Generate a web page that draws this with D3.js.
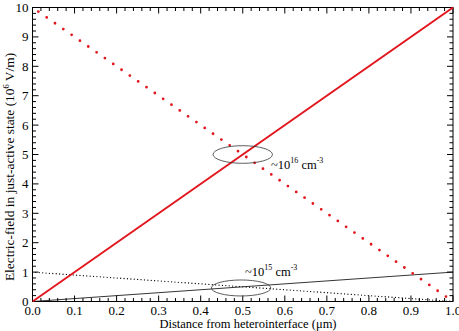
<!DOCTYPE html>
<html><head><meta charset="utf-8">
<script src="https://cdn.jsdelivr.net/npm/d3@7"></script>
<style>body{margin:0;background:#fff}svg{display:block}</style>
</head><body><svg id="c" width="459" height="331" font-family="'Liberation Serif', 'DejaVu Serif', serif"></svg>
<script>
// data
const xTicks = [0,0.1,0.2,0.3,0.4,0.5,0.6,0.7,0.8,0.9,1.0];
const yTicks = [0,1,2,3,4,5,6,7,8,9,10];
const xVals = [0, 1];
const redRising = [0, 10];      // ~10^16 cm^-3, solid
const redFalling = [10, 0];     // ~10^16 cm^-3, dotted
const blackRising = [0, 1];     // ~10^15 cm^-3, solid
const blackFalling = [1, 0];    // ~10^15 cm^-3, dotted
const ellipses = [{cx:0.5, cy:5.0, ry:8.8}, {cx:0.496, cy:0.46, ry:8}];

const svg = d3.select("#c");
const L=32.5, R=453, T=7.5, B=301.5;
const x = d3.scaleLinear().domain([0,1]).range([L,R]);
const y = d3.scaleLinear().domain([0,10]).range([B,T]);

svg.append("rect").attr("x",L).attr("y",T).attr("width",R-L).attr("height",B-T)
  .attr("fill","none").attr("stroke","#000").attr("stroke-width",1);

const minorX = d3.range(0,51).map(i=>i*0.02);
const minorY = d3.range(0,51).map(i=>i*0.2);
const g = svg.append("g").attr("stroke","#000").attr("stroke-width",1);
minorX.forEach(v=>{
  const major = Math.abs(v*10-Math.round(v*10))<1e-6;
  const len = major?6:3.5;
  g.append("line").attr("x1",x(v)).attr("x2",x(v)).attr("y1",B).attr("y2",B-len);
  g.append("line").attr("x1",x(v)).attr("x2",x(v)).attr("y1",T).attr("y2",T+len);
});
minorY.forEach(v=>{
  const major = Math.abs(v-Math.round(v))<1e-6;
  const len = major?6:3.5;
  g.append("line").attr("y1",y(v)).attr("y2",y(v)).attr("x1",L).attr("x2",L+len);
  g.append("line").attr("y1",y(v)).attr("y2",y(v)).attr("x1",R).attr("x2",R-len);
});

svg.append("g").selectAll("text").data(xTicks).join("text")
  .attr("x",d=>x(d)).attr("y",B+13.5).attr("text-anchor","middle").attr("font-size",13)
  .text(d=>d.toFixed(1));
svg.append("g").selectAll("text").data(yTicks).join("text")
  .attr("x",L-4).attr("y",d=>y(d)+4.5).attr("text-anchor","end").attr("font-size",13)
  .text(d=>d);

svg.append("text").attr("x",248).attr("y",328).attr("text-anchor","middle").attr("font-size",12.5)
  .text("Distance from heterointerface (\u03bcm)");
const yl = svg.append("text").attr("transform",`translate(14,167) rotate(-90)`)
  .attr("text-anchor","middle").attr("font-size",13.4);
yl.append("tspan").text("Electric-field in just-active state (10");
yl.append("tspan").attr("font-size",8.5).attr("dy",-5.5).text("6");
yl.append("tspan").attr("dy",5.5).text(" V/m)");

const line = d3.line().x(d=>x(d[0])).y(d=>y(d[1]));
const pts = arr => xVals.map((v,i)=>[v,arr[i]]);
svg.append("defs").append("clipPath").attr("id","pc").append("rect")
  .attr("x",L).attr("y",T-2).attr("width",R-L+2).attr("height",B-T+3);
const pg = svg.append("g").attr("clip-path","url(#pc)");
pg.append("path").attr("d",line(pts(blackRising))).attr("fill","none").attr("stroke","#000").attr("stroke-width",0.8);
pg.append("path").attr("d",line(pts(blackFalling))).attr("fill","none").attr("stroke","#000").attr("stroke-width",1.3)
  .attr("stroke-dasharray","0 3.4").attr("stroke-linecap","round");
pg.append("path").attr("d",line(pts(redRising))).attr("fill","none").attr("stroke","#e3151c").attr("stroke-width",2);
pg.append("path").attr("d",line(pts(redFalling))).attr("fill","none").attr("stroke","#e3151c").attr("stroke-width",2.8)
  .attr("stroke-dasharray","0 10.15").attr("stroke-dashoffset",3).attr("stroke-linecap","round");

ellipses.forEach(e=>{
  svg.append("ellipse").attr("cx",x(e.cx)).attr("cy",y(e.cy)).attr("rx",29.7).attr("ry",e.ry)
    .attr("fill","none").attr("stroke","#333").attr("stroke-width",0.8);
});
function ann(px,py,exp){
  const t = svg.append("text").attr("x",px).attr("y",py).attr("font-size",12.5);
  t.append("tspan").text("~10");
  t.append("tspan").attr("font-size",8).attr("dy",-6).text(exp);
  t.append("tspan").attr("dy",6).text(" cm");
  t.append("tspan").attr("font-size",8).attr("dy",-6).text("-3");
}
ann(271,169,"16");
ann(245,276,"15");
</script></body></html>
